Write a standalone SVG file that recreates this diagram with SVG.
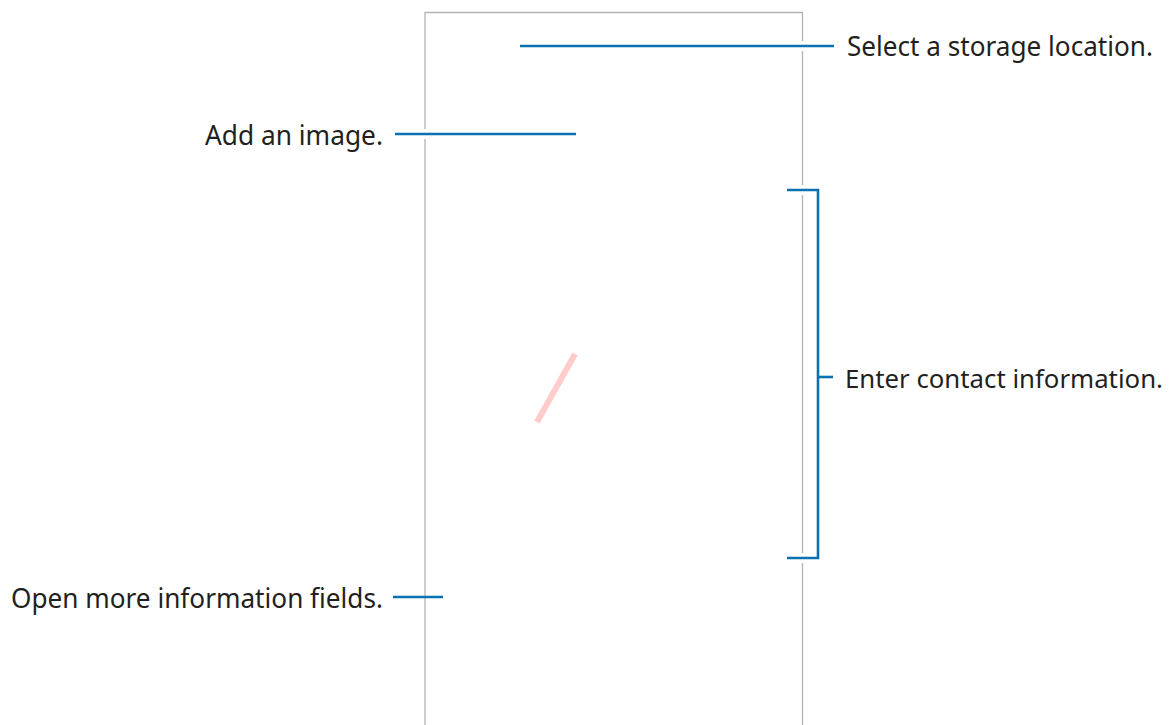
<svg xmlns="http://www.w3.org/2000/svg" width="1175" height="725" viewBox="0 0 1175 725">
<style>
.frame{fill:none;stroke:#b3b3b3;stroke-width:1.3}
.halo{stroke:#ffffff;stroke-width:10;fill:none}
.lead{stroke:#0a72b1;stroke-width:2.6;fill:none}
.lbl{font-family:"Noto Sans","Open Sans",sans-serif;font-size:27px;fill:#231f20}
</style>
<rect width="1175" height="725" fill="#ffffff"/>
<g id="phone">
<path class="frame" d="M425,725 V12.5 H802.5 V725"/>
<line x1="575" y1="354" x2="537" y2="422" stroke="#ffcccc" stroke-width="6"/>
</g>
<g id="connectors">
<line class="halo" x1="796" y1="46" x2="809" y2="46"/>
<line class="halo" x1="418" y1="134" x2="432" y2="134"/>
<line class="halo" x1="796" y1="190" x2="809" y2="190"/>
<line class="halo" x1="796" y1="558" x2="809" y2="558"/>
<line class="lead" x1="520" y1="46" x2="834" y2="46"/>
<line class="lead" x1="395" y1="134" x2="576" y2="134"/>
<path class="lead" d="M787,190 H818 V558 H787"/>
<line class="lead" x1="818" y1="377" x2="833" y2="377"/>
<line class="lead" x1="393" y1="597" x2="443" y2="597"/>
</g>
<g id="label-storage"><text class="lbl" x="847" y="56" textLength="306" lengthAdjust="spacingAndGlyphs">Select a storage location.</text></g>
<g id="label-image"><text class="lbl" x="205" y="145" textLength="178" lengthAdjust="spacingAndGlyphs">Add an image.</text></g>
<g id="label-contact"><text class="lbl" x="845" y="388" font-size="25.5" textLength="318" lengthAdjust="spacingAndGlyphs" style="font-size:25.5px">Enter contact information.</text></g>
<g id="label-fields"><text class="lbl" x="11" y="608" textLength="372" lengthAdjust="spacingAndGlyphs">Open more information fields.</text></g>
</svg>
